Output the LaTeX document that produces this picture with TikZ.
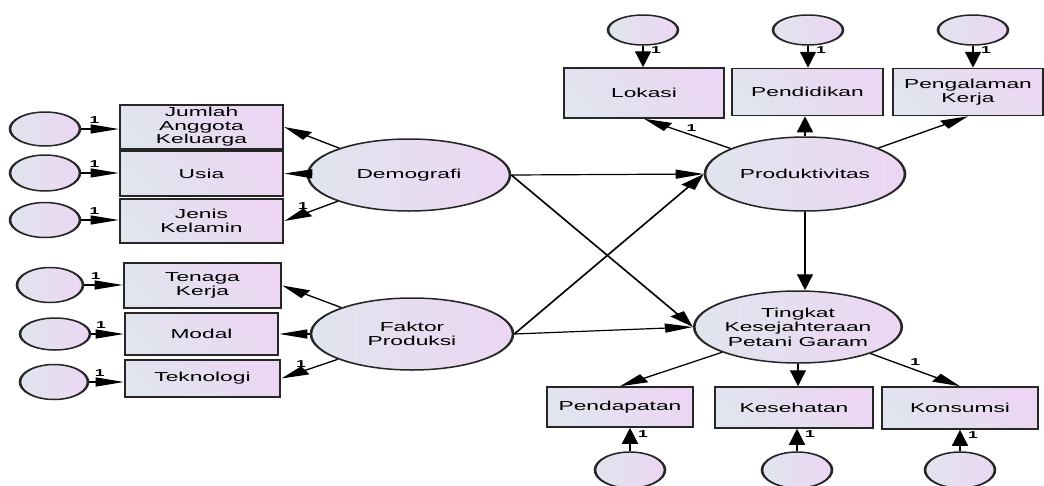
\documentclass[tikz,border=0pt]{standalone}
\usepackage{fontspec}
\setmainfont{Liberation Sans}
\usetikzlibrary{arrows.meta,shapes.geometric}
\definecolor{cA}{RGB}{224,229,238}
\definecolor{cB}{RGB}{236,214,243}
\tikzset{
  sz/.style 2 args={minimum width=#1pt/1.75, minimum height=#2pt},
  obs/.style={draw=black!85, line width=1.5pt, rectangle, inner sep=0pt, align=center,
    left color=cA, right color=cB, shading angle=120, font=\fontsize{13}{13.5}\selectfont},
  lat/.style={draw=black!85, line width=1.5pt, ellipse, inner sep=0pt, align=center,
    left color=cA, right color=cB, font=\fontsize{13}{14.5}\selectfont},
  err/.style={draw=black!85, line width=1.5pt, ellipse, inner sep=0pt,
    left color=cA, right color=cB},
  arr/.style={line width=1.2pt, -{Triangle[length=16pt,width=9pt]}},
  one/.style={font=\fontsize{10}{10}\selectfont\bfseries, inner sep=1pt}
}
\begin{document}
\begin{tikzpicture}[x=1pt,y=-1pt]
\useasboundingbox (0,0) rectangle (1044,485);
\clip (0,0) rectangle (1044,485);
\begin{scope}[transform canvas={xscale=1.75}, x=0.571429pt]
% latent
\node[lat, sz={202}{72}] (demo) at (409,175) {Demografi};
\node[lat, sz={202}{72}] (fak) at (412,334) {Faktor\\Produksi};
\node[lat, sz={200}{74}] (prod) at (805,174) {Produktivitas};
\node[lat, sz={202}{72}] (ting) at (798,327) {Tingkat\\Kesejahteraan\\Petani Garam};
% observed
\node[obs, sz={163}{44}] (jum) at (201.5,127) {Jumlah\\Anggota\\Keluarga};
\node[obs, sz={163}{45}] (usia) at (201.5,173.5) {Usia};
\node[obs, sz={163}{44}] (jen) at (201.5,221) {Jenis\\Kelamin};
\node[obs, sz={157}{45}] (ten) at (202.5,285.5) {Tenaga\\Kerja};
\node[obs, sz={153}{42}] (mod) at (201.5,334) {Modal};
\node[obs, sz={155}{37}] (tek) at (202.5,378.5) {Teknologi};
\node[obs, sz={160}{50}] (lok) at (644,93) {Lokasi};
\node[obs, sz={151}{47}] (pend) at (807.5,92) {Pendidikan};
\node[obs, sz={150}{47}] (peng) at (968,92) {Pengalaman\\Kerja};
\node[obs, sz={146}{40}] (pdp) at (620,407) {Pendapatan};
\node[obs, sz={158}{41}] (kes) at (794,407.5) {Kesehatan};
\node[obs, sz={156}{42}] (kon) at (960,408) {Konsumsi};
% errors
\node[err, sz={70}{34}] (e1) at (45,129) {};
\node[err, sz={70}{36}] (e2) at (45,173) {};
\node[err, sz={70}{35}] (e3) at (45,220) {};
\node[err, sz={66}{35}] (e4) at (50,285) {};
\node[err, sz={70}{32}] (e5) at (55,334) {};
\node[err, sz={68}{35}] (e6) at (54,382) {};
\node[err, sz={70}{30}] (e7) at (643,30) {};
\node[err, sz={70}{30}] (e8) at (808,30) {};
\node[err, sz={70}{30}] (e9) at (973,30) {};
\node[err, sz={70}{36}] (e10) at (630,470) {};
\node[err, sz={70}{36}] (e11) at (797,470) {};
\node[err, sz={70}{36}] (e12) at (960,470) {};
% error arrows
\draw[arr] (e1) -- (e1 -| jum.west) node[one, pos=0.35, above=4pt] {1};
\draw[arr] (e2) -- (e2 -| usia.west) node[one, pos=0.35, above=4pt] {1};
\draw[arr] (e3) -- (e3 -| jen.west) node[one, pos=0.35, above=4pt] {1};
\draw[arr] (e4) -- (e4 -| ten.west) node[one, pos=0.3, above=4pt] {1};
\draw[arr] (e5) -- (e5 -| mod.west) node[one, pos=0.3, above=4pt] {1};
\draw[arr] (e6) -- (e6 -| tek.west) node[one, pos=0.3, above=4pt] {1};
\draw[arr] (e7) -- (e7 |- lok.north) node[one, pos=0.2, right=3pt] {1};
\draw[arr] (e8) -- (e8 |- pend.north) node[one, pos=0.2, right=3pt] {1};
\draw[arr] (e9) -- (e9 |- peng.north) node[one, pos=0.2, right=3pt] {1};
\draw[arr] (e10) -- (e10 |- pdp.south) node[one, pos=0.75, right=3pt] {1};
\draw[arr] (e11) -- (e11 |- kes.south) node[one, pos=0.75, right=3pt] {1};
\draw[arr] (e12) -- (e12 |- kon.south) node[one, pos=0.75, right=3pt] {1};
% loadings
\draw[arr] (demo) -- (jum.east);
\draw[arr] (demo) -- (usia.east);
\draw[arr] (demo) -- (jen.east) node[one, pos=0.65, above=3pt] {1};
\draw[arr] (fak) -- (ten.east);
\draw[arr] (fak) -- (mod.east);
\draw[arr] (fak) -- (tek.east) node[one, pos=0.65, above=3pt] {1};
\draw[arr] (prod) -- (lok.south) node[one, pos=0.45, above=2pt] {1};
\draw[arr] (prod) -- (prod |- pend.south);
\draw[arr] (prod) -- (peng.south);
\draw[arr] (ting) -- (pdp.north);
\draw[arr] (ting) -- (ting |- kes.north);
\draw[arr] (ting) -- (kon.north) node[one, pos=0.5, above=3pt] {1};
% structural
\draw[arr] (demo.east) -- (prod.west);
\draw[arr] (demo.east) -- (ting.west);
\draw[arr] (fak.east) -- (prod.west);
\draw[arr] (fak.east) -- (ting.west);
\draw[arr] (prod) -- (prod |- ting.north);
\end{scope}
\end{tikzpicture}
\end{document}
